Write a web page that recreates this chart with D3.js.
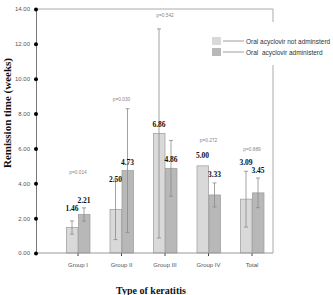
<!DOCTYPE html>
<html>
<head>
<meta charset="utf-8">
<script src="https://cdn.jsdelivr.net/npm/d3@7"></script>
<style>
  body { margin: 0; background: #fff; }
  svg { display: block; }
</style>
</head>
<body>
<div id="chart"></div>
<script>
const groups = ["Group I", "Group II", "Group III", "Group IV", "Total"];
const series = ["Oral acyclovir not adminsterd", "Oral  acyclovir administerd"];
const notGiven = [1.46, 2.50, 6.86, 5.00, 3.09];
const given = [2.21, 4.73, 4.86, 3.33, 3.45];
const notGivenSd = [0.38, 1.73, 6.0, 0, 1.6];
const givenSd = [0.38, 3.55, 1.6, 0.69, 0.85];
// heights (in weeks) where the value labels and p-values sit
const notGivenLabelAt = [2.41, 4.07, 7.23, 5.45, 5.05];
const givenLabelAt = [2.87, 5.05, 5.22, 4.36, 4.59];
const pValues = ["p=0.014", "p=0.030", "p=0.542", "p=0.272", "p=0.889"];
const pAt = [4.53, 8.72, 13.54, 6.37, 5.85];
const yTicks = d3.range(0, 15, 2);

const width = 333, height = 295;
const plotLeft = 36, plotRight = 273, plotTop = 9, plotBottom = 253;
const colors = ["#d9d9d9", "#b8b8b8"];

const svg = d3.select("#chart")
  .append("svg")
  .attr("width", width)
  .attr("height", height);

const x = d3.scaleBand()
  .domain(groups)
  .range([56.25, 273.75]);
const xSub = d3.scaleBand()
  .domain([0, 1])
  .range([-12, 12]);
const y = d3.scaleLinear()
  .domain([0, 14])
  .range([plotBottom, plotTop]);

const rows = groups.map((g, i) => [
  { g, s: 0, v: notGiven[i], sd: notGivenSd[i], at: notGivenLabelAt[i] },
  { g, s: 1, v: given[i], sd: givenSd[i], at: givenLabelAt[i] }
]).flat();

// frame
svg.append("line")
    .attr("x1", plotLeft).attr("x2", plotRight)
    .attr("y1", plotTop).attr("y2", plotTop)
    .attr("stroke", "#aaa");
svg.append("line")
    .attr("x1", plotRight).attr("x2", plotRight)
    .attr("y1", plotTop).attr("y2", plotBottom)
    .attr("stroke", "#aaa");

const cx = d => x(d.g) + x.bandwidth() / 2 + xSub(d.s);

svg.append("g")
  .selectAll("rect")
  .data(rows)
  .join("rect")
    .attr("x", d => cx(d) + 0.5)
    .attr("y", d => y(d.v))
    .attr("width", xSub.bandwidth() - 0.5)
    .attr("height", d => y(0) - y(d.v))
    .attr("fill", d => colors[d.s])
    .attr("stroke", "#9a9a9a")
    .attr("stroke-width", 0.7);

// error bars
const err = svg.append("g")
    .attr("stroke", "#8a8a8a")
    .attr("stroke-width", 0.8)
  .selectAll("g")
  .data(rows.filter(d => d.sd > 0))
  .join("g")
    .attr("transform", d => `translate(${cx(d) + xSub.bandwidth() / 2},0)`);
err.append("line")
    .attr("y1", d => y(d.v - d.sd))
    .attr("y2", d => y(d.v + d.sd));
err.append("line")
    .attr("x1", -2).attr("x2", 2)
    .attr("y1", d => y(d.v - d.sd)).attr("y2", d => y(d.v - d.sd));
err.append("line")
    .attr("x1", -2).attr("x2", 2)
    .attr("y1", d => y(d.v + d.sd)).attr("y2", d => y(d.v + d.sd));

// value labels
svg.append("g")
  .selectAll("text")
  .data(rows)
  .join("text")
    .attr("x", d => cx(d) + xSub.bandwidth() / 2)
    .attr("y", d => y(d.at))
    .attr("text-anchor", "middle")
    .attr("font-family", "Liberation Serif, serif")
    .attr("font-weight", "bold")
    .attr("font-size", 7.5)
    .attr("fill", "#111")
    .text(d => d.v.toFixed(2));

// p-values
svg.append("g")
  .selectAll("text")
  .data(groups)
  .join("text")
    .attr("x", d => x(d) + x.bandwidth() / 2)
    .attr("y", (d, i) => y(pAt[i]))
    .attr("text-anchor", "middle")
    .attr("font-family", "Liberation Sans, sans-serif")
    .attr("font-size", 4.8)
    .attr("fill", "#888")
    .text((d, i) => pValues[i]);

// x axis
const xAxis = svg.append("g")
    .attr("transform", `translate(0,${plotBottom})`)
    .call(d3.axisBottom(x).tickSize(3).tickPadding(7));
xAxis.select(".domain").remove();
xAxis.selectAll(".tick line").attr("stroke", "#444");
xAxis.selectAll(".tick text")
    .attr("font-family", "Liberation Sans, sans-serif")
    .attr("font-size", 6)
    .attr("fill", "#555");
svg.append("line")
    .attr("x1", plotLeft).attr("x2", plotRight)
    .attr("y1", plotBottom).attr("y2", plotBottom)
    .attr("stroke", "#999");

// y axis
const yAxis = svg.append("g")
    .attr("transform", `translate(${plotLeft},0)`)
    .call(d3.axisLeft(y).tickValues(yTicks).tickSize(0).tickPadding(6).tickFormat(d3.format(".2f")));
yAxis.select(".domain").attr("stroke", "#777");
yAxis.selectAll(".tick text")
    .attr("font-family", "Liberation Sans, sans-serif")
    .attr("font-size", 6)
    .attr("fill", "#555");
yAxis.selectAll(".tick")
  .append("circle")
    .attr("r", 2)
    .attr("fill", "#000");

// titles
svg.append("text")
    .attr("transform", "translate(11,113) rotate(-90)")
    .attr("text-anchor", "middle")
    .attr("font-family", "Liberation Serif, serif")
    .attr("font-weight", "bold")
    .attr("font-size", 11)
    .attr("fill", "#111")
    .text("Remission time (weeks)");
svg.append("text")
    .attr("x", 151)
    .attr("y", 294)
    .attr("text-anchor", "middle")
    .attr("font-family", "Liberation Serif, serif")
    .attr("font-weight", "bold")
    .attr("font-size", 10)
    .attr("fill", "#111")
    .text("Type of keratitis");

// legend
const legend = svg.append("g");
legend.append("rect")
    .attr("x", 208).attr("y", 22)
    .attr("width", 125).attr("height", 43)
    .attr("fill", "#fff");
const item = legend.selectAll("g")
  .data(series)
  .join("g")
    .attr("transform", (d, i) => `translate(212,${37 + i * 11})`);
item.append("rect")
    .attr("width", 9).attr("height", 8)
    .attr("fill", (d, i) => colors[i]);
item.append("line")
    .attr("x1", 11).attr("x2", 32)
    .attr("y1", 4).attr("y2", 4)
    .attr("stroke", "#777")
    .attr("stroke-width", 0.7);
item.append("text")
    .attr("x", 34).attr("y", 6.5)
    .attr("font-family", "Liberation Sans, sans-serif")
    .attr("font-size", 6.5)
    .attr("fill", "#333")
    .attr("xml:space", "preserve")
    .style("white-space", "pre")
    .text(d => d);
</script>
</body>
</html>
